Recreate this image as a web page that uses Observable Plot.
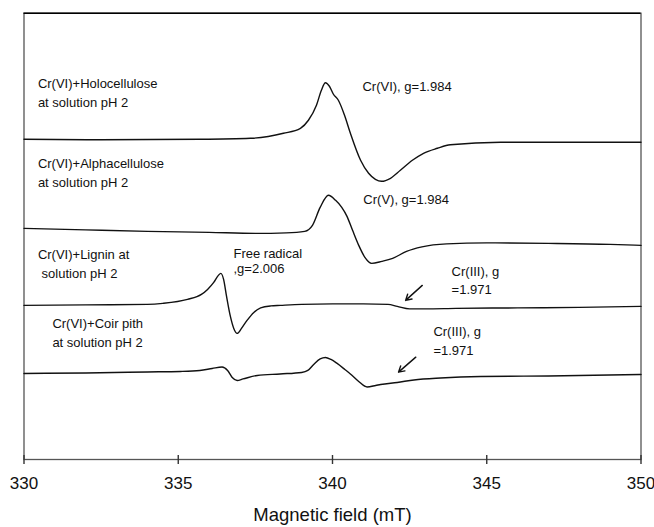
<!DOCTYPE html>
<html>
<head>
<meta charset="utf-8">
<script src="https://cdn.jsdelivr.net/npm/d3@7"></script>
<script src="https://cdn.jsdelivr.net/npm/@observablehq/plot@0.6"></script>
<style>
  html, body { margin: 0; padding: 0; background: #fff; }
  #chart svg { display: block; }
</style>
</head>
<body>
<div id="chart"></div>
<script>
// Magnetic field (mT) and EPR intensity (arbitrary units, stacked offsets)
const holoField  = [330.0, 332.48, 335.72, 337.34, 338.41, 338.96, 339.22, 339.48, 339.64, 339.77, 339.90, 340.03, 340.19, 340.39, 340.58, 340.91, 341.17, 341.39, 341.59, 341.88, 342.20, 342.59, 342.95, 343.40, 343.82, 345.45, 347.72, 350.0];
const holoSignal = [320, 319.5, 320, 321, 326, 331, 339, 354, 369, 376.5, 373, 365, 359, 344, 326, 299, 286, 280, 278, 281, 289, 299, 306, 311, 314.5, 317, 317, 317];

const alphaField  = [330.0, 332.0, 334.0, 336.0, 337.5, 338.5, 339.1, 339.35, 339.6, 339.87, 340.1, 340.3, 340.47, 340.65, 340.85, 341.05, 341.27, 341.6, 341.95, 342.4, 342.9, 343.7, 345.0, 347.0, 349.0, 350.0];
const alphaSignal = [231, 229.5, 228, 227, 226, 226.5, 228, 234, 252, 264, 259, 252, 243, 229, 214, 202, 196, 198, 201, 208, 212.5, 215.5, 216.5, 216, 215, 214];

const ligninField  = [330.0, 332.0, 334.0, 334.5, 335.3, 335.75, 335.95, 336.15, 336.3, 336.38, 336.47, 336.56, 336.69, 336.8, 336.91, 337.05, 337.23, 337.45, 337.67, 338.0, 338.31, 339.0, 340.0, 341.0, 341.8, 342.1, 342.5, 343.0, 344.0, 346.0, 348.0, 350.0];
const ligninSignal = [154, 154.5, 155, 156, 160, 165, 170, 177, 184, 186, 180, 164, 143, 131, 126, 131, 139, 147, 151.5, 153.5, 154, 155, 155.5, 155.5, 155, 153, 150.5, 150.5, 151, 151.5, 152, 153];

const coirField  = [330.0, 332.0, 334.0, 335.07, 335.7, 336.1, 336.42, 336.6, 336.75, 336.91, 337.1, 337.56, 338.3, 339.0, 339.2, 339.39, 339.6, 339.77, 339.95, 340.15, 340.4, 340.58, 340.85, 341.12, 341.4, 341.56, 342.1, 342.64, 343.5, 344.8, 347.0, 350.0];
const coirSignal = [86, 86.5, 87.5, 88, 89, 91, 92.5, 89, 82, 79, 80.5, 84, 85.5, 87, 89, 95, 100.5, 102, 100, 96, 90, 85.5, 78, 72.5, 74, 75, 77, 79.5, 81.5, 83, 83.5, 85];

const xTicks = [330, 335, 340, 345, 350];

// annotation texts and their anchor positions (field, intensity)
const noteText = ["Cr(VI)+Holocellulose", "at solution pH 2", "Cr(VI), g=1.984",
                  "Cr(VI)+Alphacellulose", "at solution pH 2", "Cr(V), g=1.984",
                  "Cr(VI)+Lignin at", "solution pH 2", "Free radical", ",g=2.006",
                  "Cr(III), g", "=1.971",
                  "Cr(VI)+Coir pith", "at solution pH 2", "Cr(III), g", "=1.971"];
const noteField = [330.45, 330.45, 340.97, 330.45, 330.45, 341.0, 330.45, 330.57, 336.79, 336.79, 343.86, 343.86, 330.92, 330.92, 343.27, 343.27];
const noteLevel = [371.3, 352.5, 368.5, 291, 272, 255.5, 200.5, 181.5, 201.5, 186, 183, 165, 131.5, 112.5, 123, 104];

// arrows pointing to Cr(III) feature
const arrowFrom = [[342.91, 174], [342.70, 102.3]];
const arrowTo   = [[342.37, 159], [342.14, 87.3]];

const toRows = (xs, ys) => xs.map((x, i) => ({x, y: ys[i]}));
const spectra = [
  toRows(holoField, holoSignal),
  toRows(alphaField, alphaSignal),
  toRows(ligninField, ligninSignal),
  toRows(coirField, coirSignal)
];
const notes = noteText.map((t, i) => ({t, x: noteField[i], y: noteLevel[i]}));
const arrows = arrowFrom.map((a, i) => ({x1: a[0], y1: a[1], x2: arrowTo[i][0], y2: arrowTo[i][1]}));

const font = "'Liberation Sans', Arial, Helvetica, sans-serif";

const chart = Plot.plot({
  width: 654,
  height: 527,
  marginLeft: 23.5,
  marginRight: 13.5,
  marginTop: 12.7,
  marginBottom: 68,
  style: {fontFamily: font, background: "#fff", color: "#111"},
  x: {domain: [330, 350], ticks: xTicks},
  y: {domain: [0, 446], axis: null},
  marks: [
    Plot.frame({stroke: "#555", strokeWidth: 1.3}),
    Plot.ruleY([446], {stroke: "#000", strokeWidth: 1.6}),
    Plot.ruleX(xTicks, {y1: -5, y2: 4, stroke: "#333", strokeWidth: 1.4}),
    Plot.axisX({ticks: xTicks, tickSize: 0, tickPadding: 17, fontSize: 17, label: null, tickFormat: d => String(d)}),
    Plot.text(["Magnetic field (mT)"], {x: 340, y: -61, lineAnchor: "bottom", fontSize: 18.5, fill: "#111"}),
    ...spectra.map(s => Plot.line(s, {x: "x", y: "y", curve: "monotone-x", stroke: "#111", strokeWidth: 1.4})),
    Plot.text(notes, {x: "x", y: "y", text: "t", textAnchor: "start", lineAnchor: "bottom", fontSize: 13, fill: "#111"}),
    Plot.arrow(arrows, {x1: "x1", y1: "y1", x2: "x2", y2: "y2", stroke: "#111", strokeWidth: 1.4, headLength: 7})
  ]
});
document.getElementById("chart").appendChild(chart);
</script>
</body>
</html>
